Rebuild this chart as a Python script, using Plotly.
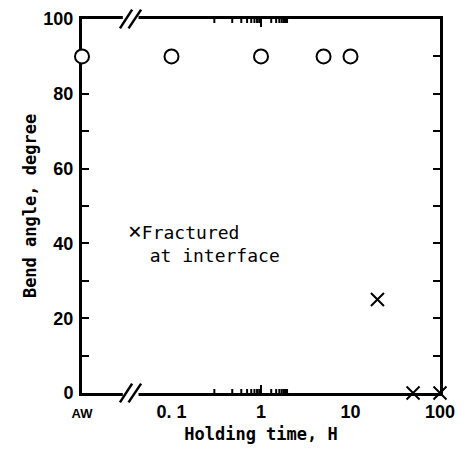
import math
import plotly.graph_objects as go

# ---- data ----
x_tick_vals = [0.01, 0.1, 1, 10, 100]          # 0.01 is the position used for "AW"
x_tick_text = ['<span style="font-size:13px">AW</span>', "0. 1", "1", "10", "100"]
x_major_marks = [0.1, 1, 10]
x_minor_vals = [0.02, 0.03, 0.04, 0.05, 0.06, 0.07, 0.08, 0.09,
                0.2, 0.3, 0.4, 0.5, 0.6, 0.7, 0.8, 0.9,
                2, 3, 4, 5, 6, 7, 8, 9,
                20, 30, 40, 50, 60, 70, 80, 90]
y_tick_vals = [0, 20, 40, 60, 80, 100]

ok_time = [0.01, 0.1, 1, 5, 10]                # AW, 0.1, 1, 5, 10 h
ok_angle = [90, 90, 90, 90, 90]

frac_time = [20, 50, 100]
frac_angle = [25, 0, 0]

fig = go.Figure()
fig.add_trace(go.Scatter(
    x=ok_time, y=ok_angle, mode="markers", cliponaxis=False,
    marker=dict(symbol="circle", size=14, color="white",
                line=dict(color="black", width=2)),
    showlegend=False))
fig.add_trace(go.Scatter(
    x=frac_time, y=frac_angle, mode="markers", cliponaxis=False,
    marker=dict(symbol="x-thin", size=13, color="black",
                line=dict(color="black", width=2)),
    showlegend=False))

tickfont = dict(family="Liberation Sans", size=18, color="black", weight="bold")
titlefont = dict(family="DejaVu Sans Mono", size=17, color="black")

fig.update_layout(
    xaxis=dict(
        type="log", range=[-2, 2], automargin=False,
        tickmode="array", tickvals=x_tick_vals, ticktext=x_tick_text,
        ticks="", showline=True, linewidth=3, linecolor="black", mirror=True,
        showgrid=False, zeroline=False, layer="below traces",
        tickfont=tickfont,
        title=dict(text="<b>Holding time, H</b>", font=titlefont, standoff=8)),
    yaxis=dict(
        range=[0, 100], tickmode="array", tickvals=y_tick_vals, automargin=False,
        ticks="inside", ticklen=7, tickwidth=2, tickcolor="black",
        minor=dict(dtick=10, ticks="inside", ticklen=7, tickwidth=2, tickcolor="black"),
        showline=True, linewidth=3, linecolor="black", mirror="ticks",
        showgrid=False, zeroline=False, layer="below traces",
        tickfont=tickfont, ticklabelstandoff=2,
        title=dict(text="<b>Bend angle, degree</b>", font=titlefont, standoff=3)),
)

shapes = []
# x tick marks on bottom and top edges, placed on the x scale (log units for shapes)
plot_h = 460 - 11 - 75
for vals, length in ((x_major_marks, 8), (x_minor_vals, 4)):
    f = length / plot_h
    for v in vals:
        xv = math.log10(v)
        for yb, y_end in ((0, f), (1, 1 - f)):
            shapes.append(dict(type="line", xref="x", yref="paper",
                               x0=xv, x1=xv, y0=yb, y1=y_end,
                               line=dict(color="black", width=2), layer="above"))

# axis break marks "//" on top and bottom axes
dy = 0.025
for yb in (0, 1):
    shapes.append(dict(type="rect", xref="paper", yref="paper",
                       x0=0.114, x1=0.158, y0=yb - 0.012, y1=yb + 0.012,
                       fillcolor="white", line=dict(width=0), layer="above"))
    for x0, x1 in ((0.106, 0.140), (0.130, 0.165)):
        shapes.append(dict(type="line", xref="paper", yref="paper",
                           x0=x0, y0=yb - dy, x1=x1, y1=yb + dy,
                           line=dict(color="black", width=2.5), layer="above"))

# page body has an 8px margin, so the figure is made 8px smaller
fig.update_layout(
    width=459, height=460,
    margin=dict(l=74, r=27, t=11, b=75),
    paper_bgcolor="white", plot_bgcolor="white",
    shapes=shapes,
    annotations=[dict(
        xref="paper", yref="paper", x=0.122, y=0.405, xanchor="left", yanchor="middle",
        text="<span style='font-size:23px'>×</span>Fractured<br>  at interface",
        align="left", showarrow=False,
        font=dict(family="DejaVu Sans Mono", size=18, color="black"))],
)

fig.write_html("out.html")
